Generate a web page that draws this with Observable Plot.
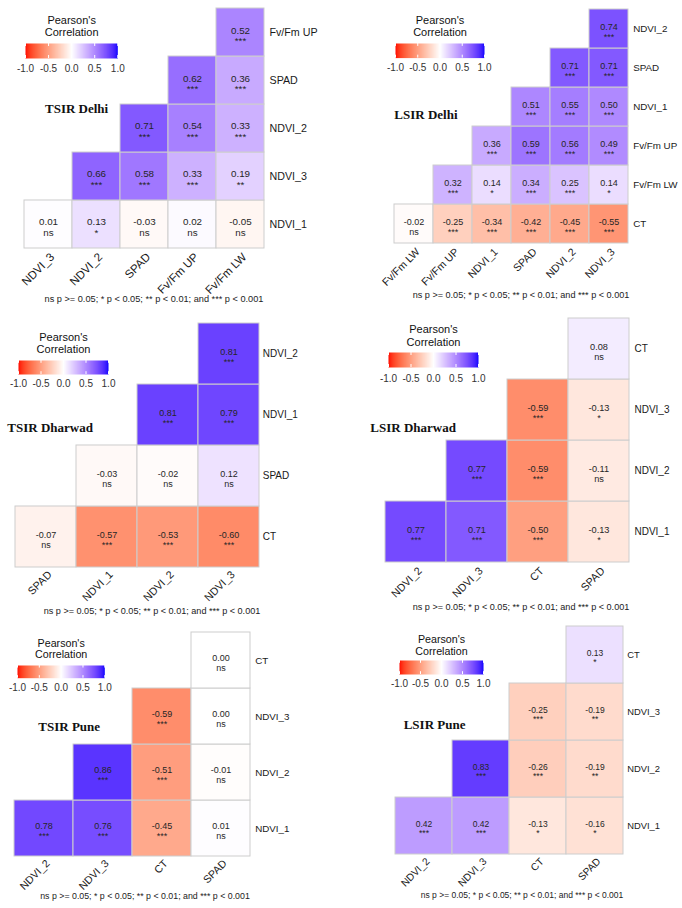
<!DOCTYPE html>
<html>
<head>
<meta charset="utf-8">
<script src="https://cdn.jsdelivr.net/npm/d3@7"></script>
<script src="https://cdn.jsdelivr.net/npm/@observablehq/plot@0.6"></script>
<style>
  body { margin: 0; background: #fff; }
  #chart { position: relative; width: 682px; height: 908px; overflow: hidden; background: #fff;
           font-family: "Liberation Sans", Arial, sans-serif; }
  #chart svg { position: absolute; }
  .ptitle { position: absolute; font-family: "Liberation Serif", "Times New Roman", serif; font-weight: bold;
            font-size: 13px; line-height: 13px; white-space: nowrap; color: #111; }
  .note { position: absolute; width: 320px; text-align: center; white-space: nowrap; color: #222; }
</style>
</head>
<body>
<div id="chart"></div>
<script>
// ---- Correlation data (lower triangles). Row i holds r(vars[i], vars[j]) for j > i. ----

// TSIR Delhi
const tsirDelhiVars = ["NDVI_1", "NDVI_3", "NDVI_2", "SPAD", "Fv/Fm UP", "Fv/Fm LW"];
const tsirDelhiR = [
  [0.01, 0.13, -0.03, 0.02, -0.05],
  [0.66, 0.58, 0.33, 0.19],
  [0.71, 0.54, 0.33],
  [0.62, 0.36],
  [0.52]
];
const tsirDelhiSig = [
  ["ns", "*", "ns", "ns", "ns"],
  ["***", "***", "***", "**"],
  ["***", "***", "***"],
  ["***", "***"],
  ["***"]
];

// LSIR Delhi
const lsirDelhiVars = ["CT", "Fv/Fm LW", "Fv/Fm UP", "NDVI_1", "SPAD", "NDVI_2", "NDVI_3"];
const lsirDelhiR = [
  [-0.02, -0.25, -0.34, -0.42, -0.45, -0.55],
  [0.32, 0.14, 0.34, 0.25, 0.14],
  [0.36, 0.59, 0.56, 0.49],
  [0.51, 0.55, 0.50],
  [0.71, 0.71],
  [0.74]
];
const lsirDelhiSig = [
  ["ns", "***", "***", "***", "***", "***"],
  ["***", "*", "***", "***", "*"],
  ["***", "***", "***", "***"],
  ["***", "***", "***"],
  ["***", "***"],
  ["***"]
];

// TSIR Dharwad
const tsirDharwadVars = ["CT", "SPAD", "NDVI_1", "NDVI_2", "NDVI_3"];
const tsirDharwadR = [
  [-0.07, -0.57, -0.53, -0.60],
  [-0.03, -0.02, 0.12],
  [0.81, 0.79],
  [0.81]
];
const tsirDharwadSig = [
  ["ns", "***", "***", "***"],
  ["ns", "ns", "ns"],
  ["***", "***"],
  ["***"]
];

// LSIR Dharwad
const lsirDharwadVars = ["NDVI_1", "NDVI_2", "NDVI_3", "CT", "SPAD"];
const lsirDharwadR = [
  [0.77, 0.71, -0.50, -0.13],
  [0.77, -0.59, -0.11],
  [-0.59, -0.13],
  [0.08]
];
const lsirDharwadSig = [
  ["***", "***", "***", "*"],
  ["***", "***", "ns"],
  ["***", "*"],
  ["ns"]
];

// TSIR Pune
const tsirPuneVars = ["NDVI_1", "NDVI_2", "NDVI_3", "CT", "SPAD"];
const tsirPuneR = [
  [0.78, 0.76, -0.45, 0.01],
  [0.86, -0.51, -0.01],
  [-0.59, 0.00],
  [0.00]
];
const tsirPuneSig = [
  ["***", "***", "***", "ns"],
  ["***", "***", "ns"],
  ["***", "ns"],
  ["ns"]
];

// LSIR Pune
const lsirPuneVars = ["NDVI_1", "NDVI_2", "NDVI_3", "CT", "SPAD"];
const lsirPuneR = [
  [0.42, 0.42, -0.13, -0.16],
  [0.83, -0.26, -0.19],
  [-0.25, -0.19],
  [0.13]
];
const lsirPuneSig = [
  ["***", "***", "*", "*"],
  ["***", "***", "**"],
  ["***", "**"],
  ["*"]
];

const legendTicks = [-1, -0.5, 0, 0.5, 1];
const legendTitle = "Pearson's\nCorrelation";
const sigNote = "ns p >= 0.05; * p < 0.05; ** p < 0.01; and *** p < 0.001";

// ---- Shared colour scale: red (-1) -> white (0) -> blue (+1), interpolated in Lab ----
const toWhite = d3.interpolateLab("red", "white");
const toBlue = d3.interpolateLab("white", "blue");
const colorOptions = {
  type: "linear",
  domain: [-1, 1],
  interpolate: t => (t < 0.5 ? toWhite(t * 2) : toBlue(t * 2 - 1))
};

// ---- Panel layout ----
const panels = [
  {title: "TSIR Delhi", vars: tsirDelhiVars, r: tsirDelhiR, sig: tsirDelhiSig, left: 0,
   grid: [22.7, 266, 6.7, 249.3], axisFont: 10.7, cellFont: 9.8,
   bar: [25, 117.3, 43.3, 58.3], legTitleMid: 26.2, legLine: 12.3, legFont: 11, tickY: 68.3,
   titlePos: [45, 108.3], note: [154, 300, 9.2]},
  {title: "LSIR Delhi", vars: lsirDelhiVars, r: lsirDelhiR, sig: lsirDelhiSig, left: 341,
   grid: [392.7, 629.7, 6.7, 244.3], axisFont: 9.8, cellFont: 9,
   bar: [395, 484, 42.7, 57.3], legTitleMid: 25.5, legLine: 12.3, legFont: 11, tickY: 66.7,
   titlePos: [394.3, 115], note: [521, 295.5, 9.1]},
  {title: "TSIR Dharwad", vars: tsirDharwadVars, r: tsirDharwadR, sig: tsirDharwadSig, left: 0,
   grid: [14, 259.3, 323.3, 567.7], axisFont: 10, cellFont: 9,
   bar: [18.3, 108.3, 360, 374], legTitleMid: 342.5, legLine: 12.6, legFont: 11, tickY: 383.3,
   titlePos: [7.3, 427.7], note: [152, 612, 9.1]},
  {title: "LSIR Dharwad", vars: lsirDharwadVars, r: lsirDharwadR, sig: lsirDharwadSig, left: 341,
   grid: [383.3, 631, 315.7, 563.3], axisFont: 10, cellFont: 9.2,
   bar: [387.7, 477.7, 352.3, 367.3], legTitleMid: 335.5, legLine: 12.4, legFont: 11, tickY: 377.7,
   titlePos: [370.3, 427.7], note: [521, 607.3, 9.1]},
  {title: "TSIR Pune", vars: tsirPuneVars, r: tsirPuneR, sig: tsirPuneSig, left: 0,
   grid: [12.7, 251.7, 631.7, 856], axisFont: 9.8, cellFont: 9,
   bar: [16.7, 104, 665, 677.7], legTitleMid: 648.8, legLine: 11.2, legFont: 10.7, tickY: 687.3,
   titlePos: [38.3, 726.7], note: [145, 896.7, 8.8]},
  {title: "LSIR Pune", vars: lsirPuneVars, r: lsirPuneR, sig: lsirPuneSig, left: 341,
   grid: [394.3, 623.7, 626, 854.3], axisFont: 9.4, cellFont: 8.5,
   bar: [398.7, 482.7, 660, 674], legTitleMid: 645, legLine: 11.4, legFont: 10.7, tickY: 682.7,
   titlePos: [403.7, 725], note: [522, 895, 8.5]}
];

const chart = document.getElementById("chart");

function place(el, left, top) {
  el.style.left = left + "px";
  el.style.top = top + "px";
  chart.appendChild(el);
}

// Flatten a lower-triangle list into cell records
function cellsOf(vars, r, sig) {
  const out = [];
  r.forEach((row, i) => row.forEach((v, k) => {
    out.push({row: vars[i], col: vars[i + 1 + k], r: v, sig: sig[i][k]});
  }));
  return out;
}

for (const p of panels) {
  const [gx0, gx1, gy0, gy1] = p.grid;
  const data = cellsOf(p.vars, p.r, p.sig);
  const cols = p.vars.slice(1);
  const rows = p.vars.slice(0, -1).reverse(); // top to bottom

  // Heat-map
  const padTop = 10, padBottom = 60, width = 341;
  const heat = Plot.plot({
    width,
    height: (gy1 - gy0) + padTop + padBottom,
    marginLeft: gx0 - p.left,
    marginRight: p.left + width - gx1,
    marginTop: padTop,
    marginBottom: padBottom,
    style: {background: "transparent", overflow: "visible", color: "#1a1a1a",
            fontFamily: "Liberation Sans, Arial, sans-serif"},
    x: {domain: cols, padding: 0, label: null},
    y: {domain: rows, padding: 0, label: null},
    color: colorOptions,
    marks: [
      Plot.cell(data, {x: "col", y: "row", fill: "r", stroke: "#cdcdcd", strokeWidth: 1}),
      Plot.text(data, {
        x: "col", y: "row",
        text: d => d.r.toFixed(2) + "\n" + d.sig,
        fontSize: p.cellFont, lineHeight: 1.1, dy: p.cellFont * 0.3,
        fill: "#262626"
      }),
      Plot.axisX({anchor: "bottom", tickRotate: -45, tickSize: 0, tickPadding: 5, label: null,
                  dx: 4, fontSize: p.axisFont * 1.08, fill: "#1a1a1a"}),
      Plot.axisY({anchor: "right", tickSize: 0, tickPadding: 3, label: null,
                  fontSize: p.axisFont, fill: "#1a1a1a"})
    ]
  });
  place(heat, p.left, gy0 - padTop);

  // Colour-bar legend
  const [bx0, bx1, by0, by1] = p.bar;
  const lm = 20, lt = 40, lb = 22;
  const legend = Plot.plot({
    width: (bx1 - bx0) + 2 * lm,
    height: (by1 - by0) + lt + lb,
    marginLeft: lm, marginRight: lm, marginTop: lt, marginBottom: lb,
    style: {background: "transparent", overflow: "visible", color: "#333",
            fontFamily: "Liberation Sans, Arial, sans-serif"},
    x: {domain: [-1, 1], label: null},
    y: {domain: [0, 1], axis: null},
    color: colorOptions,
    marks: [
      Plot.raster({x1: -1, x2: 1, y1: 0, y2: 1, width: 200, height: 1, fill: (x) => x}),
      Plot.ruleX(legendTicks, {y1: 0, y2: 0.2, stroke: "white", strokeWidth: 1}),
      Plot.ruleX(legendTicks, {y1: 0.8, y2: 1, stroke: "white", strokeWidth: 1}),
      Plot.axisX({ticks: legendTicks, tickFormat: d => d.toFixed(1), tickSize: 0, label: null,
                  tickPadding: p.tickY - by1 - 3.5, fontSize: 10, fill: "#333"}),
      Plot.text([legendTitle], {
        frameAnchor: "top", lineAnchor: "middle", dy: p.legTitleMid - by0,
        fontSize: p.legFont, lineHeight: p.legLine / p.legFont, fill: "#111"
      })
    ]
  });
  place(legend, bx0 - lm, by0 - lt);

  // Panel title
  const t = document.createElement("div");
  t.className = "ptitle";
  t.textContent = p.title;
  place(t, p.titlePos[0], p.titlePos[1] - 6.6);

  // Significance note
  const [ncx, ncy, nfs] = p.note;
  const n = document.createElement("div");
  n.className = "note";
  n.style.fontSize = nfs + "px";
  n.style.lineHeight = nfs + "px";
  n.textContent = sigNote;
  place(n, ncx - 160, ncy - 0.52 * nfs);
}
</script>
</body>
</html>
